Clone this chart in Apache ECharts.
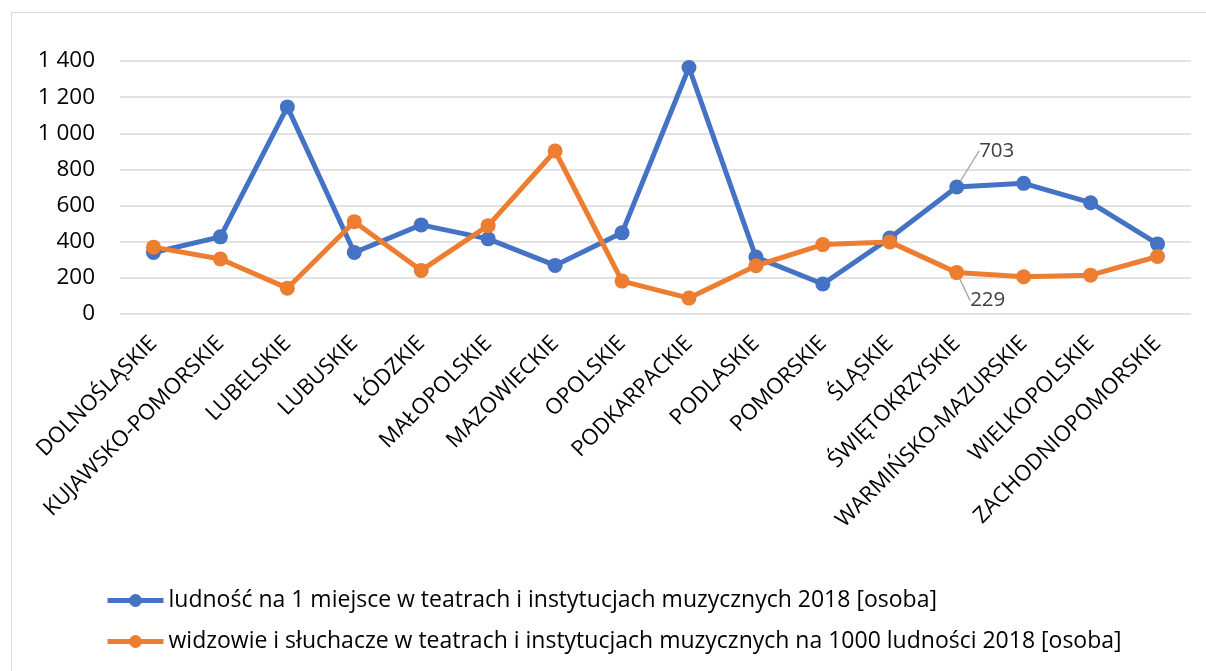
<!DOCTYPE html>
<html>
<head>
<meta charset="utf-8">
<script src="https://cdn.jsdelivr.net/npm/echarts@6/dist/echarts.min.js"></script>
<style>
html,body{margin:0;padding:0;background:#fff;}
#frame{position:absolute;left:11px;top:12px;width:1210px;height:680px;border:1.5px solid #d9d9d9;box-sizing:border-box;}
#chart{position:absolute;left:0;top:0;width:1206px;height:671px;}
</style>
</head>
<body>
<div id="frame"></div>
<div id="chart"></div>
<script>
var categories = ['DOLNOŚLĄSKIE','KUJAWSKO-POMORSKIE','LUBELSKIE','LUBUSKIE','ŁÓDZKIE','MAŁOPOLSKIE','MAZOWIECKIE','OPOLSKIE','PODKARPACKIE','PODLASKIE','POMORSKIE','ŚLĄSKIE','ŚWIĘTOKRZYSKIE','WARMIŃSKO-MAZURSKIE','WIELKOPOLSKIE','ZACHODNIOPOMORSKIE'];
var ludnoscNaMiejsce = [340, 427, 1146, 340, 493, 416, 269, 449, 1364, 315, 166, 420, 703, 723, 616, 388];
var widzowieNa1000 = [370, 304, 143, 511, 241, 489, 902, 182, 88, 267, 384, 399, 229, 206, 215, 318];
var seriesNames = [
  'ludność na 1 miejsce w teatrach i instytucjach muzycznych 2018 [osoba]',
  'widzowie i słuchacze w teatrach i instytucjach muzycznych na 1000 ludności 2018 [osoba]'
];
var labelledIndex = 12;

var FONT = 'Open Sans';
function fmt(v){ return String(v).replace(/\B(?=(\d{3})+(?!\d))/g, ' '); }

function buildData(arr, labelCfg){
  return arr.map(function(v, i){
    if (i === labelledIndex) {
      return { value: v, label: labelCfg, labelLine: { show: true, lineStyle: { color: '#a6a6a6', width: 1.3 } } };
    }
    return v;
  });
}

var chart = echarts.init(document.getElementById('chart'));
chart.setOption({
  animation: false,
  backgroundColor: 'transparent',
  grid: { left: 120, right: 15, top: 61, bottom: 357, containLabel: false },
  legend: {
    orient: 'vertical',
    left: 100,
    top: 584,
    itemGap: 18,
    itemWidth: 56,
    itemHeight: 16,
    lineStyle: { width: 5 },
    textStyle: { fontFamily: FONT, fontSize: 23, color: '#000' },
    data: seriesNames
  },
  xAxis: {
    type: 'category',
    data: categories,
    boundaryGap: true,
    axisLine: { show: false },
    axisTick: { show: false },
    axisLabel: { rotate: 45, interval: 0, fontFamily: FONT, fontSize: 22, color: '#000', margin: 26 }
  },
  yAxis: {
    type: 'value',
    min: 0, max: 1400, interval: 200,
    axisLine: { show: false },
    axisTick: { show: false },
    splitLine: { lineStyle: { color: '#d9d9d9', width: 1.5 } },
    axisLabel: { fontFamily: FONT, fontSize: 22.5, color: '#000', margin: 25, formatter: fmt }
  },
  series: [
    {
      name: seriesNames[0],
      type: 'line',
      data: buildData(ludnoscNaMiejsce, { show: true, fontFamily: FONT, fontSize: 20.5, color: '#404040' }),
      symbol: 'circle', symbolSize: 15,
      lineStyle: { color: '#4472c4', width: 5 },
      itemStyle: { color: '#4472c4' },
      labelLayout: function(p){ return { dx: 40, dy: -13 }; }
    },
    {
      name: seriesNames[1],
      type: 'line',
      data: buildData(widzowieNa1000, { show: true, position: 'bottom', fontFamily: FONT, fontSize: 20.5, color: '#404040' }),
      symbol: 'circle', symbolSize: 15,
      lineStyle: { color: '#ed7d31', width: 5 },
      itemStyle: { color: '#ed7d31' },
      labelLayout: function(p){ return { dx: 31, dy: 5 }; }
    }
  ]
});
</script>
</body>
</html>
